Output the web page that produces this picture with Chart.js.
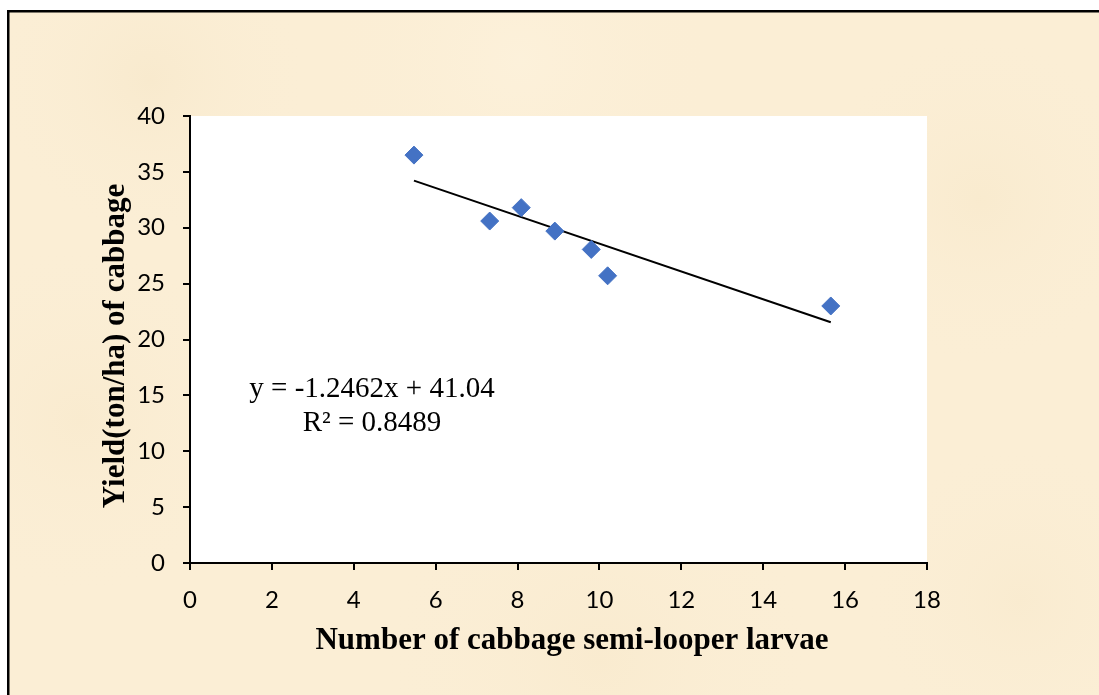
<!DOCTYPE html>
<html>
<head>
<meta charset="utf-8">
<script src="https://cdn.jsdelivr.net/npm/chart.js@4.4.1/dist/chart.umd.min.js"></script>
<style>
  html, body { margin: 0; padding: 0; background: #fff; overflow: hidden; }
  #wrap { width: 1099px; height: 695px; }
</style>
</head>
<body>
<div id="wrap"><canvas id="yieldChart" width="1099" height="695"></canvas></div>
<script>
// Số liệu
const larvae = [5.47, 7.32, 8.09, 8.91, 9.8, 10.2, 15.65];
const yieldTon = [36.5, 30.6, 31.8, 29.7, 28.06, 25.7, 23.0];

// đường xu hướng (hai đầu mút)
const trendX = [5.47, 15.65];
const trendY = [34.22, 21.54];

const eqLines = ["y = -1.2462x + 41.04", "R\u00b2 = 0.8489"];
const xTitle = "Number of cabbage semi-looper larvae";
const yTitle = "Yield(ton/ha) of cabbage";

const xTicks = [0, 2, 4, 6, 8, 10, 12, 14, 16, 18];
const yTicks = [0, 5, 10, 15, 20, 25, 30, 35, 40];

const points = larvae.map((v, i) => ({ x: v, y: yieldTon[i] }));
const trend = trendX.map((v, i) => ({ x: v, y: trendY[i] }));

// Nền giấy + khung + vùng vẽ trắng + chữ
const paperPlugin = {
    id: "paper",
    beforeDraw(chart) {
        const c = chart.ctx;
        const { width, height, chartArea } = chart;
        c.save();
        c.fillStyle = "#ffffff";
        c.fillRect(0, 0, width, height);
        c.fillStyle = "#fbeed5";
        c.fillRect(8, 11, width, height);
        const spots = [
            [150, 80, 160, "rgba(243,226,192,0.35)"],
            [520, 60, 200, "rgba(255,246,228,0.35)"],
            [980, 200, 170, "rgba(244,227,192,0.3)"],
            [80, 420, 180, "rgba(245,228,194,0.3)"],
            [600, 660, 220, "rgba(245,228,194,0.3)"],
            [1020, 600, 160, "rgba(245,229,196,0.3)"],
        ];
        spots.forEach(([sx, sy, r, col]) => {
            const g = c.createRadialGradient(sx, sy, 0, sx, sy, r);
            g.addColorStop(0, col);
            g.addColorStop(1, "rgba(251,238,213,0)");
            c.fillStyle = g;
            c.fillRect(8, 11, width, height);
        });
        c.strokeStyle = "#000";
        c.lineWidth = 2.5;
        c.beginPath();
        c.moveTo(8.25, height + 5);
        c.lineTo(8.25, 11.25);
        c.lineTo(width + 5, 11.25);
        c.stroke();
        c.fillStyle = "#ffffff";
        c.fillRect(chartArea.left, chartArea.top, chartArea.right - chartArea.left, chartArea.bottom - chartArea.top);
        c.restore();
    },
    afterDraw(chart) {
        const c = chart.ctx;
        c.save();
        c.fillStyle = "#000";
        c.textAlign = "center";
        c.textBaseline = "alphabetic";
        c.font = "29px 'Liberation Serif'";
        c.fillText(eqLines[0], 372, 397);
        c.fillText(eqLines[1], 372, 431);

        c.textBaseline = "middle";
        c.font = "bold 31px 'Liberation Serif'";
        c.fillText(xTitle, 572, 641);
        c.translate(116, 346);
        c.rotate(-Math.PI / 2);
        c.fillText(yTitle, 0, 0);
        c.restore();
    },
};

const ctx = document.getElementById("yieldChart").getContext("2d");

new Chart(ctx, {
    type: "scatter",
    data: {
        datasets: [
            {
                label: "Yield",
                data: points,
                pointStyle: "rectRot",
                pointRadius: 9,
                pointHoverRadius: 9,
                backgroundColor: "#4472c4",
                borderColor: "#4472c4",
                borderWidth: 1,
                order: 1,
            },
            {
                label: "Trend",
                type: "line",
                data: trend,
                borderColor: "#000",
                borderWidth: 2,
                pointRadius: 0,
                fill: false,
                order: 2,
            },
        ],
    },
    options: {
        responsive: false,
        animation: false,
        events: [],
        layout: {
            padding: { left: 97, top: 116, right: 172, bottom: 36 },
        },
        plugins: {
            legend: { display: false },
            tooltip: { enabled: false },
        },
        scales: {
            x: {
                type: "linear",
                min: 0,
                max: 18,
                afterBuildTicks: (s) => { s.ticks = xTicks.map((v) => ({ value: v })); },
                afterFit: (s) => { s.height = 96; },
                grid: {
                    display: true,
                    drawOnChartArea: false,
                    drawTicks: true,
                    tickLength: 7,
                    color: "#000",
                    lineWidth: 2,
                },
                border: { display: true, color: "#000", width: 2 },
                ticks: {
                    color: "#000",
                    padding: 16,
                    font: { family: "Lato", size: 24 },
                },
            },
            y: {
                type: "linear",
                min: 0,
                max: 40,
                afterBuildTicks: (s) => { s.ticks = yTicks.map((v) => ({ value: v })); },
                afterFit: (s) => { s.width = 93; },
                grid: {
                    display: true,
                    drawOnChartArea: false,
                    drawTicks: true,
                    tickLength: 7,
                    color: "#000",
                    lineWidth: 2,
                },
                border: { display: true, color: "#000", width: 2 },
                ticks: {
                    color: "#000",
                    padding: 18,
                    font: { family: "Lato", size: 24 },
                },
            },
        },
    },
    plugins: [paperPlugin],
});
</script>
</body>
</html>
